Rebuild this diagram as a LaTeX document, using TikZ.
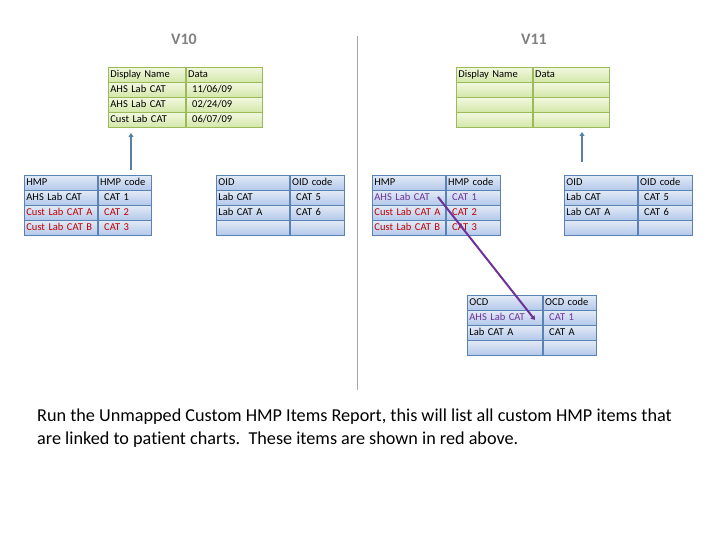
\documentclass[tikz,border=0pt]{standalone}
\usepackage{fontspec}
\setmainfont[Ligatures=NoCommon]{Carlito}
\usetikzlibrary{arrows.meta}
\definecolor{gborder}{HTML}{9BBB59}
\definecolor{gtop}{HTML}{F1F8E0}
\definecolor{gbot}{HTML}{D3E7A8}
\definecolor{bborder}{HTML}{5B82B5}
\definecolor{btop}{HTML}{E2EAF6}
\definecolor{bbot}{HTML}{B3C8EA}
\definecolor{redtxt}{HTML}{C00000}
\definecolor{purp}{HTML}{6F3198}
\definecolor{steel}{HTML}{5A7FA6}
\definecolor{titlegray}{HTML}{808080}
\tikzset{
  cell/.style={draw, line width=0.8pt, anchor=north west, inner xsep=2pt, inner ysep=0pt,
    minimum height=15pt, text height=7pt, text depth=2pt, align=left,
    font=\fontsize{10.5}{12}\selectfont},
  gcell/.style={cell, draw=gborder, top color=gtop, bottom color=gbot},
  bcell/.style={cell, draw=bborder, top color=btop, bottom color=bbot},
  title/.style={text=titlegray, font=\fontsize{16}{19}\selectfont\bfseries},
  body/.style={anchor=base west, inner sep=0pt, font=\fontsize{18.2}{23}\selectfont},
  uparrow/.style={draw=steel, line width=2pt, -{Triangle[length=4pt,width=5pt]}},
  linkarrow/.style={draw=purp, line width=2pt, -{Triangle[length=4pt,width=5pt]}},
  divider/.style={draw=gray!70, line width=1pt}
}
\newcommand{\trow}[8]{%
  \node[#1, text width=#5pt] (#2a) at (#3,#4) {#7};
  \node[#1, text width=#6pt, anchor=north west] (#2b) at (#2a.north east) {#8};}
\newcommand{\ind}{\hspace*{4pt}}
\begin{document}
\begin{tikzpicture}[x=1pt,y=-1pt]
\useasboundingbox (0,0) rectangle (720,540);
% titles
\node[title] (v10) at (184,39) {V10};
\node[title] (v11) at (534,39) {V11};
% divider
\coordinate (d1) at (357,36);
\coordinate (d2) at (357,390);
\draw[divider] (d1) -- (d2);
% V10 green table
\trow{gcell}{gl1}{108}{67}{73}{72}{Display Name}{Data}
\trow{gcell}{gl2}{108}{82}{73}{72}{AHS Lab CAT}{\ind 11/06/09}
\trow{gcell}{gl3}{108}{97}{73}{72}{AHS Lab CAT}{\ind 02/24/09}
\trow{gcell}{gl4}{108}{112}{73}{72}{Cust Lab CAT}{\ind 06/07/09}
% V11 green table
\trow{gcell}{gr1}{456}{67}{72}{72}{Display Name}{Data}
\trow{gcell}{gr2}{456}{82}{72}{72}{}{}
\trow{gcell}{gr3}{456}{97}{72}{72}{}{}
\trow{gcell}{gr4}{456}{112}{72}{72}{}{}
% V10 HMP
\trow{bcell}{hl1}{24}{175}{69}{49}{HMP}{HMP code}
\trow{bcell}{hl2}{24}{190}{69}{49}{AHS Lab CAT}{\ind CAT 1}
\trow{bcell}{hl3}{24}{205}{69}{49}{\textcolor{redtxt}{Cust Lab CAT A}}{\ind\textcolor{redtxt}{CAT 2}}
\trow{bcell}{hl4}{24}{220}{69}{49}{\textcolor{redtxt}{Cust Lab CAT B}}{\ind\textcolor{redtxt}{CAT 3}}
% V10 OID
\trow{bcell}{ol1}{216}{175}{69}{50}{OID}{OID code}
\trow{bcell}{ol2}{216}{190}{69}{50}{Lab CAT}{\ind CAT 5}
\trow{bcell}{ol3}{216}{205}{69}{50}{Lab CAT A}{\ind CAT 6}
\trow{bcell}{ol4}{216}{220}{69}{50}{}{}
% V11 HMP
\trow{bcell}{hr1}{372}{175}{69}{50}{HMP}{HMP code}
\trow{bcell}{hr2}{372}{190}{69}{50}{\textcolor{purp}{AHS Lab CAT}}{\ind\textcolor{purp}{CAT 1}}
\trow{bcell}{hr3}{372}{205}{69}{50}{\textcolor{redtxt}{Cust Lab CAT A}}{\ind\textcolor{redtxt}{CAT 2}}
\trow{bcell}{hr4}{372}{220}{69}{50}{\textcolor{redtxt}{Cust Lab CAT B}}{\ind\textcolor{redtxt}{CAT 3}}
% V11 OID
\trow{bcell}{or1}{564}{175}{69}{50}{OID}{OID code}
\trow{bcell}{or2}{564}{190}{69}{50}{Lab CAT}{\ind CAT 5}
\trow{bcell}{or3}{564}{205}{69}{50}{Lab CAT A}{\ind CAT 6}
\trow{bcell}{or4}{564}{220}{69}{50}{}{}
% V11 OCD
\trow{bcell}{cd1}{467}{295}{71}{49}{OCD}{OCD code}
\trow{bcell}{cd2}{467}{310}{71}{49}{\textcolor{purp}{AHS Lab CAT}}{\ind\textcolor{purp}{CAT 1}}
\trow{bcell}{cd3}{467}{325}{71}{49}{Lab CAT A}{\ind CAT A}
\trow{bcell}{cd4}{467}{340}{71}{49}{}{}
% arrows
\coordinate (la1) at (131,170);
\coordinate (la2) at (131,133);
\draw[uparrow] (la1) -- (la2);
\coordinate (ra1) at (582,162);
\coordinate (ra2) at (582,132);
\draw[uparrow] (ra1) -- (ra2);
\coordinate (ps) at (438,197);
\coordinate (pe) at (535,320);
\draw[linkarrow] (ps) -- (pe);
% body text
\node[body] (b1) at (37,421) {Run the Unmapped Custom HMP Items Report, this will list all custom HMP items that};
\node[body] (b2) at (37,444) {are linked to patient charts.\ \ These items are shown in red above.};
\end{tikzpicture}
\end{document}
